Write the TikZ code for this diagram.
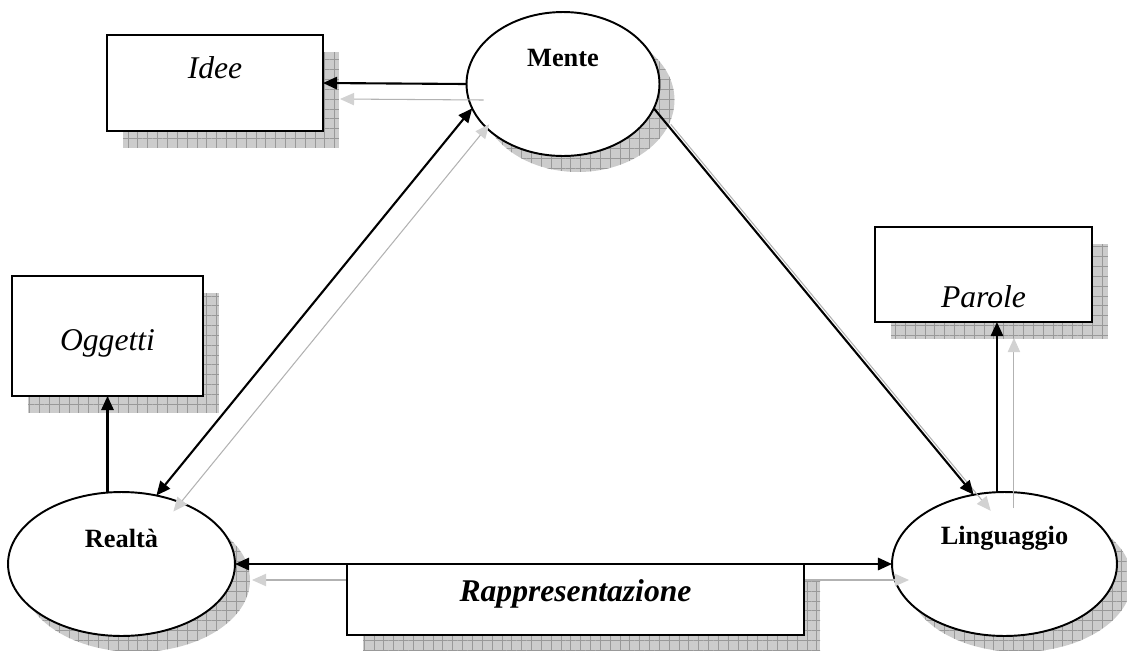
\documentclass[tikz,border=0pt]{standalone}
\usepackage{fontspec}
\setmainfont{Liberation Serif}
\usetikzlibrary{arrows.meta,shapes.geometric,patterns.meta,backgrounds}

\begin{document}
\begin{tikzpicture}
  [x=0.02cm,y=-0.02cm,
   every node/.style={draw,line width=1.1pt,fill=white,inner sep=0pt,outer sep=0pt},
   oval/.style={ellipse,minimum height=2.88cm},
   bold/.style={draw=none,fill=none,font=\fontsize{15}{18}\selectfont\bfseries},
   ital/.style={draw=none,fill=none,font=\fontsize{18}{21}\selectfont\itshape},
   grid shadow/.style={draw=none,fill=gray!40,
     postaction={pattern={Lines[distance=5.6pt,angle=0,line width=0.3pt]},pattern color=gray!80},
     postaction={pattern={Lines[distance=5.6pt,angle=90,line width=0.3pt]},pattern color=gray!80}},
   arr/.style={line width=1.2pt,-{Triangle[length=8pt,width=7pt]}},
   darr/.style={line width=1.2pt,{Triangle[length=8pt,width=7pt]}-{Triangle[length=8pt,width=7pt]}},
   sarr/.style={gray!60,line width=.6pt,-{Triangle[length=8pt,width=7pt,color=gray!35]}},
   sdarr/.style={gray!60,line width=.6pt,{Triangle[length=8pt,width=7pt,color=gray!35]}-{Triangle[length=8pt,width=7pt,color=gray!35]}}]
  \useasboundingbox (0,0) rectangle (1127,650);

  \node[oval,minimum width=3.86cm,label={[bold,yshift=0.52cm]center:Mente}] (mente) at (563,84) {};
  \node[oval,minimum width=4.54cm,label={[bold,yshift=0.52cm]center:Realtà}] (realta) at (121.5,564) {};
  \node[oval,minimum width=4.5cm,label={[bold,yshift=0.52cm]center:Linguaggio}] (lingua) at (1004.5,564) {};
  \node[minimum width=4.32cm,minimum height=1.92cm,label={[ital,yshift=0.3cm]center:Idee}] (idee) at (215,83) {};
  \node[minimum width=3.82cm,minimum height=2.4cm,label={[ital,yshift=-0.14cm]center:Oggetti}] (oggetti) at (107.5,336) {};
  \node[minimum width=4.34cm,minimum height=1.9cm,label={[ital,yshift=-0.45cm]center:Parole}] (parole) at (983.5,274.5) {};
  \coordinate (pb) at (lingua.96 |- parole.south);

  \begin{scope}[on background layer]
    \foreach \n/\rx in {mente/96.5,realta/113.5,lingua/112.5}
      \fill[grid shadow] ([shift={(15,16)}]\n.center) ellipse [x radius=\rx,y radius=72];
    \foreach \n in {idee,oggetti,parole}
      \fill[grid shadow] ([shift={(16,17)}]\n.south west) rectangle ([shift={(16,17)}]\n.north east);
    \fill[grid shadow] (363,580) rectangle (820,651);
  \end{scope}

  \foreach \from/\to in {mente.west/idee.east,mente.-15/lingua.114,lingua.96/pb}
    \draw[sarr] ([shift={(17,16)}]\from) -- ([shift={(17,16)}]\to);
  \foreach \from/\to in {mente.195/realta.63,realta.east/lingua.west}
    \draw[sdarr] ([shift={(17,16)}]\from) -- ([shift={(17,16)}]\to);

  \node[minimum width=9.14cm,minimum height=1.42cm,
        label={[draw=none,fill=none,font=\fontsize{18}{21}\selectfont\bfseries\itshape,yshift=0.12cm]center:Rappresentazione}]
        (rappr) at (575.5,599.5) {};

  \foreach \from/\to in {mente.west/idee.east,mente.-15/lingua.114,lingua.96/pb}
    \draw[arr] (\from) -- (\to);
  \draw[arr] (realta.north -| oggetti.south) -- (oggetti.south);
  \foreach \from/\to in {mente.195/realta.63,realta.east/lingua.west}
    \draw[darr] (\from) -- (\to);
\end{tikzpicture}
\end{document}
